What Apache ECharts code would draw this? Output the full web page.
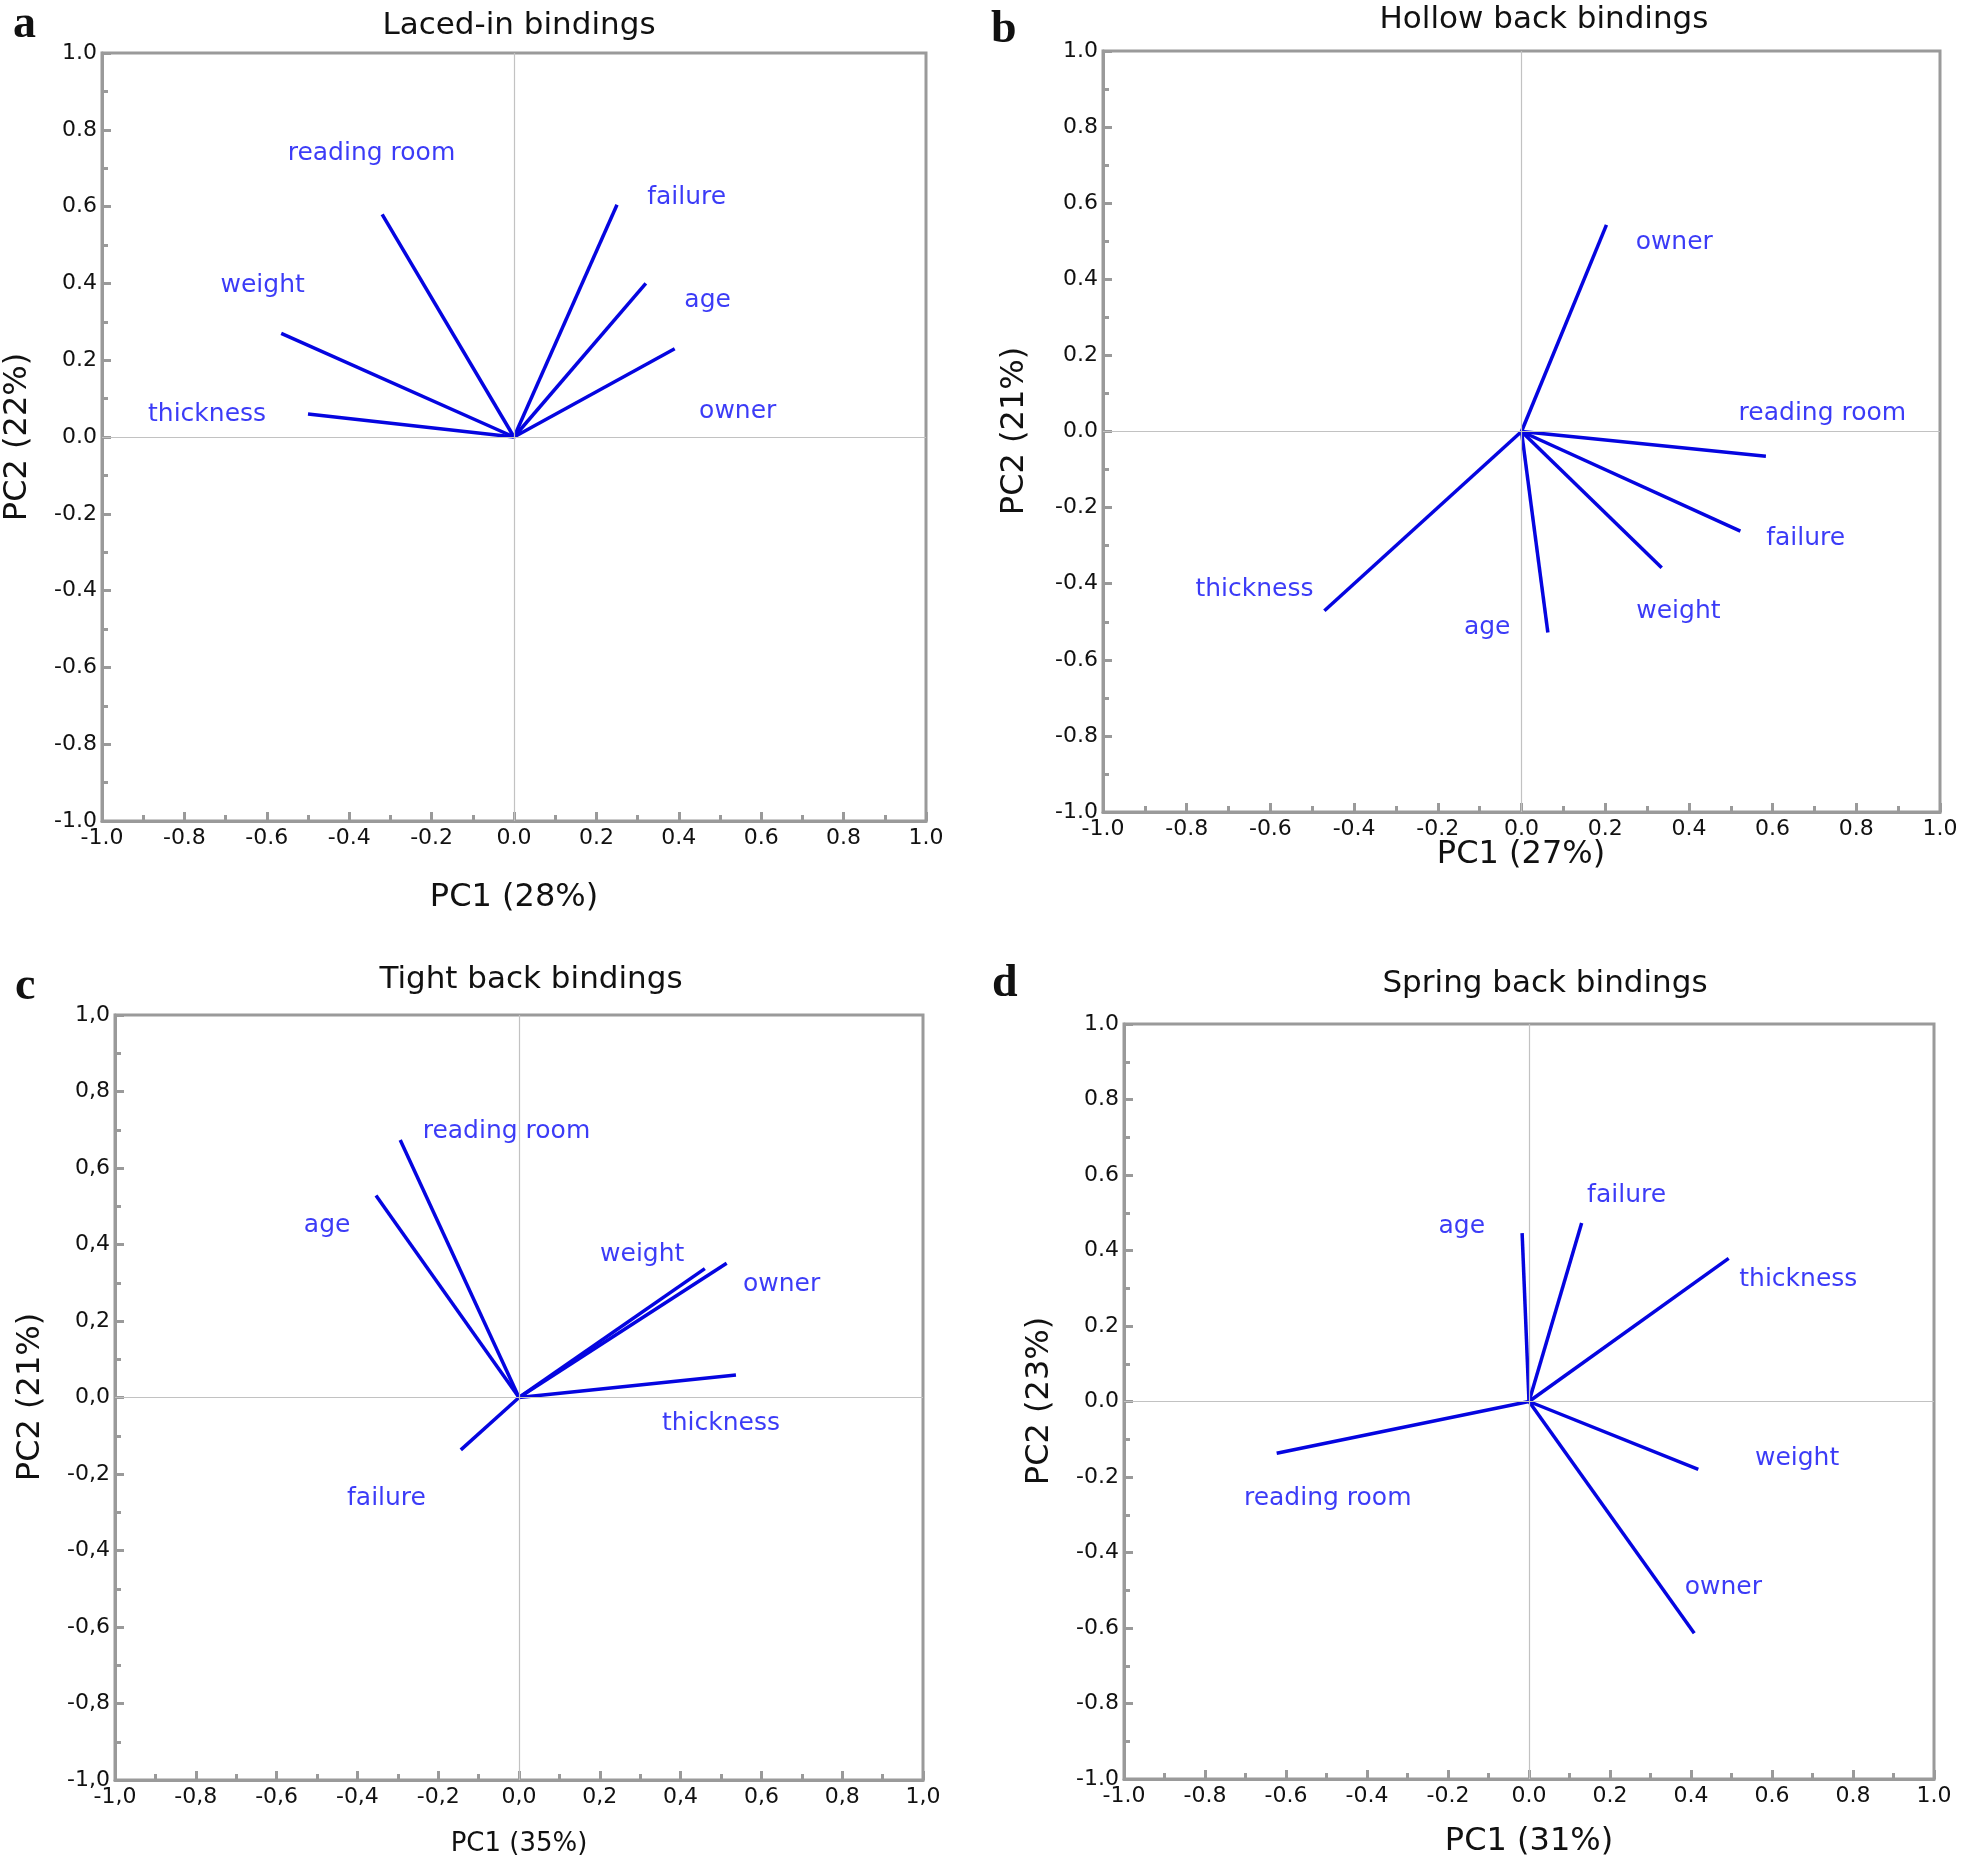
<!DOCTYPE html>
<html><head><meta charset="utf-8">
<script src="https://cdn.jsdelivr.net/npm/echarts@6/dist/echarts.min.js"></script>
<style>html,body{margin:0;padding:0;background:#fff}#chart{width:1961px;height:1863px}</style>
</head><body><div id="chart"></div>
<script>
// ---- Data (loadings) ----
const panelTitles = ['Laced-in bindings', 'Hollow back bindings', 'Tight back bindings', 'Spring back bindings'];
const panelLetters = ['a', 'b', 'c', 'd'];
const pc1Names = ['PC1 (28%)', 'PC1 (27%)', 'PC1 (35%)', 'PC1 (31%)'];
const pc2Names = ['PC2 (22%)', 'PC2 (21%)', 'PC2 (21%)', 'PC2 (23%)'];
const decimalComma = [false, false, true, false];

const aNames = ['reading room', 'weight', 'thickness', 'failure', 'age', 'owner'];
const aPC1 = [-0.32, -0.565, -0.50, 0.25, 0.32, 0.39];
const aPC2 = [0.58, 0.27, 0.06, 0.605, 0.40, 0.23];
const aLabelX = [-0.346, -0.61, -0.745, 0.419, 0.47, 0.543];
const aLabelY = [0.737, 0.394, 0.058, 0.624, 0.356, 0.066];

const bNames = ['owner', 'reading room', 'failure', 'weight', 'age', 'thickness'];
const bPC1 = [0.203, 0.584, 0.523, 0.335, 0.063, -0.471];
const bPC2 = [0.543, -0.065, -0.262, -0.358, -0.528, -0.471];
const bLabelX = [0.365, 0.719, 0.679, 0.375, -0.082, -0.638];
const bLabelY = [0.497, 0.046, -0.282, -0.474, -0.514, -0.414];

const cNames = ['reading room', 'age', 'weight', 'owner', 'thickness', 'failure'];
const cPC1 = [-0.294, -0.354, 0.46, 0.514, 0.537, -0.144];
const cPC2 = [0.673, 0.528, 0.337, 0.351, 0.059, -0.137];
const cLabelX = [-0.031, -0.475, 0.305, 0.65, 0.5, -0.328];
const cLabelY = [0.696, 0.449, 0.375, 0.295, -0.068, -0.264];

const dNames = ['age', 'failure', 'thickness', 'weight', 'owner', 'reading room'];
const dPC1 = [-0.017, 0.13, 0.493, 0.418, 0.408, -0.623];
const dPC2 = [0.446, 0.473, 0.379, -0.18, -0.614, -0.137];
const dLabelX = [-0.166, 0.241, 0.665, 0.662, 0.48, -0.497];
const dLabelY = [0.464, 0.547, 0.323, -0.15, -0.492, -0.256];

const axisMin = -1, axisMax = 1, axisStep = 0.2;

// ---- Layout / style ----
const panels = [
  {names: aNames, x: aPC1, y: aPC2, lx: aLabelX, ly: aLabelY},
  {names: bNames, x: bPC1, y: bPC2, lx: bLabelX, ly: bLabelY},
  {names: cNames, x: cPC1, y: cPC2, lx: cLabelX, ly: cLabelY},
  {names: dNames, x: dPC1, y: dPC2, lx: dLabelX, ly: dLabelY}
];
const grids = [
  {left: 102, top: 53, width: 824, height: 768},
  {left: 1103, top: 51, width: 837, height: 761},
  {left: 115, top: 1015, width: 808, height: 765},
  {left: 1124, top: 1024, width: 810, height: 755}
];
const titlePos = [[519, 26], [1544, 20], [531, 980], [1545, 984]];
const letterPos = [[13, 2], [991, 7], [15, 964], [992, 961]];
const xNamePos = [[514, 898], [1521, 855], [519, 1844], [1529, 1842]];
const yNamePos = [[18, 437], [1015, 431], [31, 1397], [1040, 1401]];
const xNameSize = [32, 32, 26, 32];

const FONT = 'DejaVu Sans';
const LINE_BLUE = '#0505e0';
const TEXT_BLUE = '#0a0af5';
const AXIS_GRAY = '#9a9a9a';

const fmt = (i) => (v) => {
  let s = (Math.abs(v) < 1e-9 ? 0 : v).toFixed(1);
  return decimalComma[i] ? s.replace('.', ',') : s;
};

const option = {
  animation: false,
  backgroundColor: '#fff',
  grid: grids.map(g => Object.assign({show: true, borderColor: AXIS_GRAY, borderWidth: 3, backgroundColor: 'transparent'}, g)),
  xAxis: grids.map((g, i) => ({
    type: 'value', gridIndex: i, min: axisMin, max: axisMax, interval: axisStep,
    axisLine: {show: true, onZero: false, lineStyle: {color: AXIS_GRAY, width: 3}},
    axisTick: {show: true, inside: true, length: 9, lineStyle: {color: AXIS_GRAY, width: 3}},
    minorTick: {show: true, splitNumber: 2, length: 6, lineStyle: {color: AXIS_GRAY, width: 3}},
    splitLine: {show: false},
    axisLabel: {show: true, margin: 6, color: '#111', fontSize: 22, fontFamily: FONT, formatter: fmt(i)}
  })),
  yAxis: grids.map((g, i) => ({
    type: 'value', gridIndex: i, min: axisMin, max: axisMax, interval: axisStep,
    axisLine: {show: true, onZero: false, lineStyle: {color: AXIS_GRAY, width: 3}},
    axisTick: {show: true, inside: true, length: 9, lineStyle: {color: AXIS_GRAY, width: 3}},
    minorTick: {show: true, splitNumber: 2, length: 6, lineStyle: {color: AXIS_GRAY, width: 3}},
    splitLine: {show: false},
    axisLabel: {show: true, margin: 5, color: '#111', fontSize: 22, fontFamily: FONT, formatter: fmt(i)}
  })),
  series: [],
  graphic: []
};

panels.forEach((p, i) => {
  // zero reference lines
  option.series.push({
    type: 'line', xAxisIndex: i, yAxisIndex: i, data: [], silent: true, z: 1,
    markLine: {
      silent: true, symbol: ['none', 'none'], label: {show: false}, animation: false,
      lineStyle: {color: '#c2c2c2', width: 1.2, type: 'solid'},
      data: [{xAxis: 0}, {yAxis: 0}]
    }
  });
  // loading vectors
  p.names.forEach((n, k) => {
    option.series.push({
      type: 'line', name: n, xAxisIndex: i, yAxisIndex: i, silent: true, z: 3,
      symbol: 'none', lineStyle: {color: LINE_BLUE, width: 3.5},
      data: [[0, 0], [p.x[k], p.y[k]]]
    });
  });
  // variable labels
  option.series.push({
    type: 'scatter', xAxisIndex: i, yAxisIndex: i, silent: true, z: 4,
    symbolSize: 1, itemStyle: {color: 'rgba(0,0,0,0)'},
    label: {show: true, position: 'inside', formatter: '{b}', color: TEXT_BLUE, fontSize: 25, fontFamily: FONT},
    data: p.names.map((n, k) => ({name: n, value: [p.lx[k], p.ly[k]]}))
  });
  // titles, letters, axis names
  option.graphic.push(
    {type: 'text', x: titlePos[i][0], y: titlePos[i][1], style: {text: panelTitles[i], font: '31px "DejaVu Sans"', fill: '#111', align: 'center', verticalAlign: 'middle'}},
    {type: 'text', x: letterPos[i][0], y: letterPos[i][1], style: {text: panelLetters[i], font: 'bold 46px "Liberation Serif"', fill: '#111', align: 'left', verticalAlign: 'top'}},
    {type: 'text', x: xNamePos[i][0], y: xNamePos[i][1], style: {text: pc1Names[i], font: xNameSize[i] + 'px "DejaVu Sans"', fill: '#111', align: 'center', verticalAlign: 'middle'}},
    {type: 'text', x: yNamePos[i][0], y: yNamePos[i][1], rotation: Math.PI / 2, style: {text: pc2Names[i], font: '32px "DejaVu Sans"', fill: '#111', align: 'center', verticalAlign: 'middle'}}
  );
});

const chart = echarts.init(document.getElementById('chart'), null, {renderer: 'canvas'});
chart.setOption(option);
</script>
</body></html>
